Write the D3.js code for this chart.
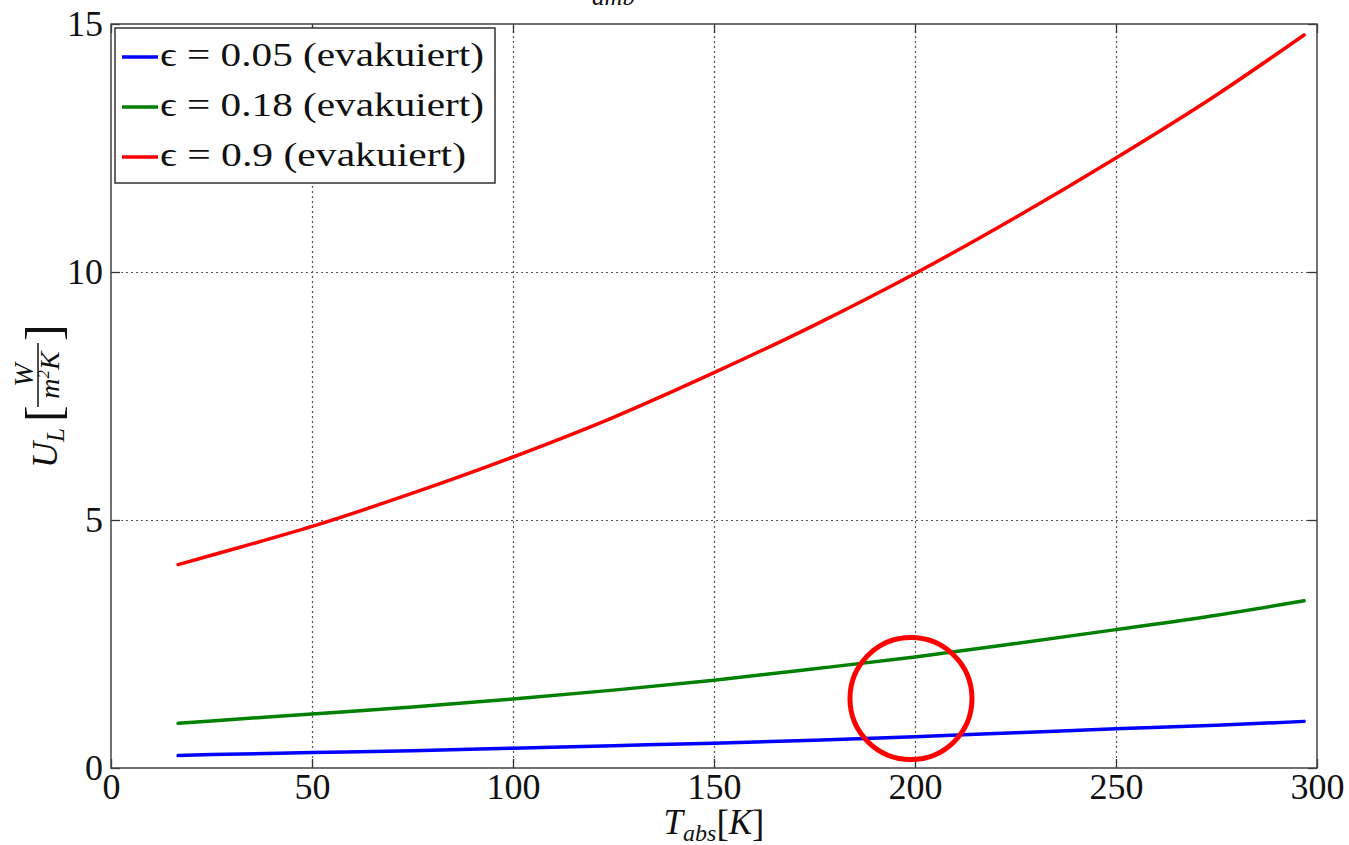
<!DOCTYPE html>
<html>
<head>
<meta charset="utf-8" />
<title>U_L over T_abs</title>
<script src="https://cdn.jsdelivr.net/npm/d3@7/dist/d3.min.js"></script>
<style>
  body { margin: 0; padding: 0; background: #fff; }
  svg { display: block; font-family: "Liberation Serif", "DejaVu Serif", serif; }
  .grid line { stroke: #555; stroke-width: 1.2px; stroke-dasharray: 2,3; }
  .grid path { display: none; }
  .axis path { display: none; }
  .axis line { stroke: #333; stroke-width: 1.3px; }
  .axis text { font-family: "Liberation Serif", serif; font-size: 36px; fill: #111; }
  .frame { fill: none; stroke: #444; stroke-width: 1.5px; }
  .series { fill: none; stroke-width: 3.5px; stroke-linejoin: round; stroke-linecap: round; }
</style>
</head>
<body>
<svg id="chart" width="1349" height="845"></svg>
<script>
// temperature grid (K)
var temps = [16.7, 25, 50, 75, 100, 125, 150, 175, 200, 225, 250, 275, 296.8];

// U_L values for each emissivity
var uRed   = [4.10, 4.29, 4.87, 5.54, 6.27, 7.07, 7.97, 8.93, 9.97, 11.10, 12.30, 13.57, 14.78];
var uGreen = [0.90, 0.95, 1.09, 1.23, 1.39, 1.57, 1.77, 2.00, 2.24, 2.51, 2.79, 3.08, 3.37];
var uBlue  = [0.25, 0.27, 0.31, 0.35, 0.40, 0.45, 0.50, 0.56, 0.63, 0.71, 0.79, 0.86, 0.94];

var seriesNames  = ["\u03f5 = 0.05 (evakuiert)", "\u03f5 = 0.18 (evakuiert)", "\u03f5 = 0.9 (evakuiert)"];
var seriesColors = ["#0000ff", "#008000", "#ff0000"];
var seriesValues = [uBlue, uGreen, uRed];

var xTicks = [0, 50, 100, 150, 200, 250, 300];
var yTicks = [0, 5, 10, 15];

// marked spot (T, U) in the plot
var markT = 199, markU = 1.4;

var svg = d3.select("#chart");
var margin = {top: 24, right: 32, bottom: 77, left: 111};
var width = 1349 - margin.left - margin.right;
var height = 845 - margin.top - margin.bottom;

var x = d3.scaleLinear().domain([0, 300]).range([0, width]);
var y = d3.scaleLinear().domain([0, 15]).range([height, 0]);

svg.append("rect").attr("width", 1349).attr("height", 845).attr("fill", "#fff");

var g = svg.append("g")
    .attr("transform", "translate(" + margin.left + "," + margin.top + ")");

// dotted grid
g.append("g")
    .attr("class", "grid")
    .attr("transform", "translate(0," + height + ")")
    .call(d3.axisBottom(x).tickValues(xTicks.slice(1, -1)).tickSize(-height).tickFormat(""));
g.append("g")
    .attr("class", "grid")
    .call(d3.axisLeft(y).tickValues(yTicks.slice(1, -1)).tickSize(-width).tickFormat(""));

// inward ticks on all four sides
g.append("g")
    .attr("class", "axis")
    .attr("transform", "translate(0," + height + ")")
    .call(d3.axisBottom(x).tickValues(xTicks).tickSize(-9).tickPadding(5).tickFormat(d3.format("d")));
g.append("g")
    .attr("class", "axis")
    .call(d3.axisLeft(y).tickValues(yTicks).tickSize(-9).tickPadding(8).tickFormat(d3.format("d")));
g.append("g")
    .attr("class", "axis")
    .call(d3.axisTop(x).tickValues(xTicks).tickSize(-9).tickFormat(""));
g.append("g")
    .attr("class", "axis")
    .attr("transform", "translate(" + width + ",0)")
    .call(d3.axisRight(y).tickValues(yTicks).tickSize(-9).tickFormat(""));

g.append("rect")
    .attr("class", "frame")
    .attr("width", width)
    .attr("height", height);

// curves
var line = d3.line()
    .x(function(d) { return x(d[0]); })
    .y(function(d) { return y(d[1]); })
    .curve(d3.curveMonotoneX);

seriesValues.forEach(function(vals, i) {
  g.append("path")
      .attr("class", "series")
      .attr("stroke", seriesColors[i])
      .attr("d", line(temps.map(function(t, j) { return [t, vals[j]]; })));
});

// red circle annotation
g.append("ellipse")
    .attr("cx", x(markT))
    .attr("cy", y(markU))
    .attr("rx", 61)
    .attr("ry", 61)
    .attr("fill", "none")
    .attr("stroke", "#ff0000")
    .attr("stroke-width", 5);

// legend
var legend = g.append("g").attr("transform", "translate(4,4)");
legend.append("rect")
    .attr("width", 380)
    .attr("height", 155)
    .attr("fill", "#fff")
    .attr("stroke", "#333")
    .attr("stroke-width", 1.5);
var legendWidths = [324, 324, 306];
seriesNames.forEach(function(name, i) {
  var row = legend.append("g").attr("transform", "translate(0," + (29 + i * 50) + ")");
  row.append("line")
      .attr("x1", 7).attr("x2", 43)
      .attr("stroke", seriesColors[i])
      .attr("stroke-width", 3.5);
  row.append("text")
      .attr("x", 45)
      .attr("y", 9)
      .attr("font-size", 34)
      .attr("fill", "#111")
      .attr("textLength", legendWidths[i])
      .attr("lengthAdjust", "spacingAndGlyphs")
      .text(name);
});

// x axis label  T_abs[K]
var xl = svg.append("text")
    .attr("x", margin.left + x(150))
    .attr("y", 834)
    .attr("text-anchor", "middle")
    .attr("font-size", 35)
    .attr("fill", "#111");
xl.append("tspan").attr("font-style", "italic").text("T");
xl.append("tspan").attr("font-style", "italic").attr("font-size", 24).attr("dy", 7).text("abs");
xl.append("tspan").attr("font-size", 37).attr("dy", -5).text("[");
xl.append("tspan").attr("font-style", "italic").attr("dy", -2).text("K");
xl.append("tspan").attr("font-size", 37).attr("dy", 2).text("]");

// y axis label  U_L [W / m^2 K], drawn rotated
var yl = svg.append("g").attr("transform", "translate(57,468) rotate(-90)");
var ylt = yl.append("text").attr("x", 0).attr("y", 0).attr("font-size", 36).attr("fill", "#111");
ylt.append("tspan").attr("font-style", "italic").text("U");
ylt.append("tspan").attr("font-style", "italic").attr("font-size", 25).attr("dy", 7).text("L");
yl.append("text").attr("x", 46).attr("y", 3).attr("font-size", 50).attr("fill", "#111").text("[");
yl.append("line")
    .attr("x1", 61).attr("x2", 125)
    .attr("y1", -19).attr("y2", -19)
    .attr("stroke", "#111").attr("stroke-width", 1.5);
yl.append("text").attr("x", 93).attr("y", -24).attr("text-anchor", "middle")
    .attr("font-size", 28).attr("font-style", "italic").attr("fill", "#111").text("W");
var den = yl.append("text").attr("x", 93).attr("y", 2).attr("text-anchor", "middle")
    .attr("font-size", 28).attr("font-style", "italic").attr("fill", "#111");
den.append("tspan").text("m");
den.append("tspan").attr("font-size", 17).attr("dy", -10).text("2");
den.append("tspan").attr("dy", 10).text("K");
yl.append("text").attr("x", 127).attr("y", 3).attr("font-size", 50).attr("fill", "#111").text("]");

// title, clipped by the top edge as in the original
var tt = svg.append("text")
    .attr("x", 572)
    .attr("y", -3)
    .attr("font-size", 36)
    .attr("fill", "#111");
tt.append("tspan").attr("font-style", "italic").text("T");
tt.append("tspan").attr("font-style", "italic").attr("font-size", 25).attr("dy", 8).text("amb");
tt.append("tspan").attr("dy", -8).text(" = 293.15 K");
</script>
</body>
</html>
